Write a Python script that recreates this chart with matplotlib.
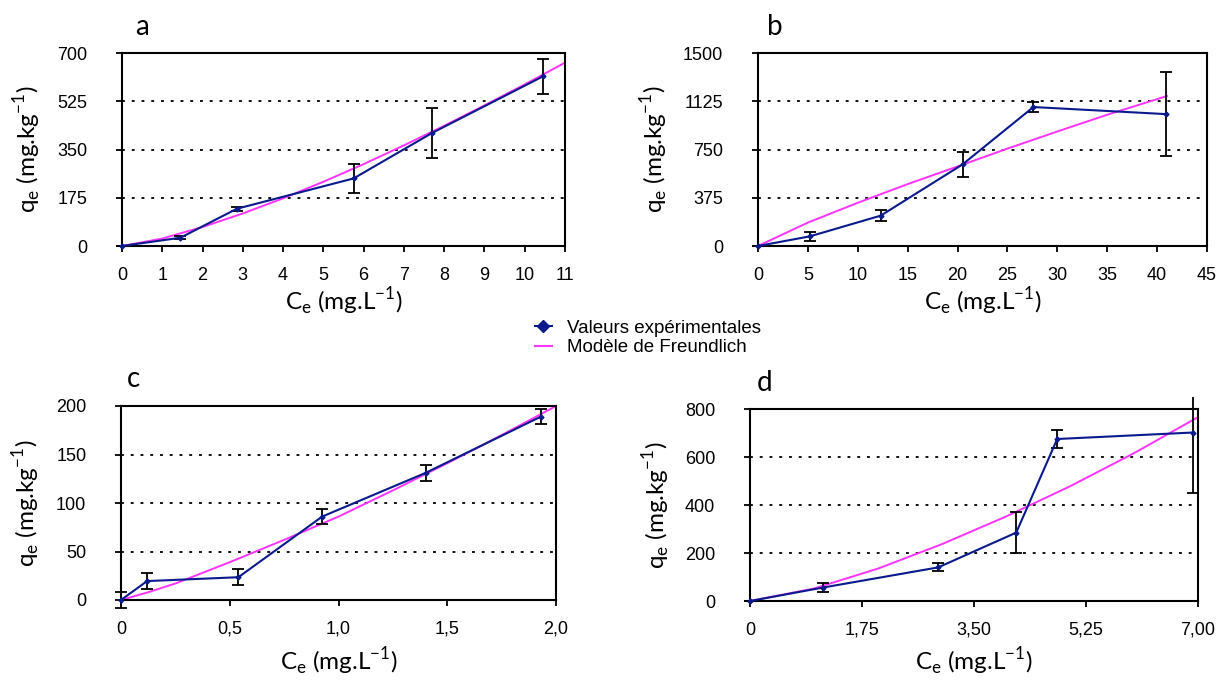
import matplotlib
matplotlib.use("Agg")
import matplotlib.pyplot as plt
from matplotlib.lines import Line2D
from matplotlib.transforms import Bbox, TransformedBbox

# --- data ---
# panel a
a_ce = [0, 1.45, 2.85, 5.75, 7.7, 10.45]
a_qe = [0, 30, 135, 245, 410, 615]
a_err = [0, 5, 8, 52, 92, 62]
a_fit_ce = [0, 1, 2, 3, 4, 5, 6, 7, 8, 9, 10, 11]
a_fit_qe = [0, 27, 69, 118, 173, 233, 297, 365, 436, 510, 586, 665]

# panel b
b_ce = [0, 5.2, 12.3, 20.5, 27.6, 40.9]
b_qe = [0, 75, 236, 634, 1080, 1025]
b_err = [0, 33, 43, 100, 39, 328]
b_fit_ce = [0, 5, 10, 15, 20, 25, 30, 35, 41]
b_fit_qe = [0, 182, 336, 481, 618, 757, 890, 1020, 1166]

# panel c
c_ce = [0, 0.12, 0.54, 0.925, 1.40, 1.93]
c_qe = [0, 19.5, 23.5, 86, 131, 189]
c_err = [8, 8, 8, 8, 8, 8]
c_fit_ce = [0, 0.125, 0.25, 0.5, 0.75, 1.0, 1.25, 1.5, 1.75, 2.0]
c_fit_qe = [0, 8, 17, 39, 62, 86, 113, 141, 170, 200]

# panel d
d_ce = [0, 1.14, 2.94, 4.16, 4.80, 6.92]
d_qe = [0, 56, 140, 285, 675, 702]
d_err = [0, 18, 17, 86, 37, 253]
d_fit_ce = [0, 1, 2, 3, 4, 5, 6, 7]
d_fit_qe = [0, 52, 135, 237, 352, 478, 616, 766]

a_xticks = [0, 1, 2, 3, 4, 5, 6, 7, 8, 9, 10, 11]
a_xlabels = [str(v) for v in a_xticks]
a_yticks = [0, 175, 350, 525, 700]
b_xticks = [0, 5, 10, 15, 20, 25, 30, 35, 40, 45]
b_xlabels = [str(v) for v in b_xticks]
b_yticks = [0, 375, 750, 1125, 1500]
c_xticks = [0, 0.5, 1.0, 1.5, 2.0]
c_xlabels = ["0", "0,5", "1,0", "1,5", "2,0"]
c_yticks = [0, 50, 100, 150, 200]
d_xticks = [0, 1.75, 3.5, 5.25, 7.0]
d_xlabels = ["0", "1,75", "3,50", "5,25", "7,00"]
d_yticks = [0, 200, 400, 600, 800]

NAVY = "#0a1a8c"
MAGENTA = "#ff33ff"
TICKFONT = "Liberation Sans"
LABELFONT = "Lato"
W, H = 1217, 680

fig = plt.figure(figsize=(W / 100, H / 100), dpi=100)


def panel(box, letter, letter_off, ce, qe, err, fit_ce, fit_qe,
          xticks, xlabels, yticks, xlab_y, ylab_x):
    # box = (left, top, right, bottom) in pixels from the top-left corner
    l, t, r, b = box
    ax = fig.add_axes([l / W, 1 - b / H, (r - l) / W, (b - t) / H])
    for yv in yticks[1:-1]:
        ax.axhline(yv, color="black", lw=1.3, linestyle=(0, (1.6, 3.8)), zorder=1)
    ax.plot(fit_ce, fit_qe, color=MAGENTA, lw=1.4, zorder=2)
    eb = ax.errorbar(ce, qe, yerr=err, fmt="none", ecolor="black", elinewidth=1.3,
                     capsize=4.5, capthick=1.3, zorder=3)
    # error bars may run a little past the frame (as in the original), then get cut
    clip = TransformedBbox(Bbox([[-0.2, -0.2], [1.2, 12 / (b - t) + 1]]), ax.transAxes)
    for art in list(eb.lines[1]) + list(eb.lines[2]):
        art.set_clip_box(clip)
    ax.plot(ce, qe, color=NAVY, lw=1.5, marker="D", ms=2.5, zorder=4, clip_on=False)
    ax.set_xlim(xticks[0], xticks[-1])
    ax.set_ylim(yticks[0], yticks[-1])
    ax.set_xticks(xticks)
    ax.set_xticklabels(xlabels, fontsize=13, family=TICKFONT)
    ax.set_yticks(yticks)
    ax.set_yticklabels([str(v) for v in yticks], fontsize=13, family=TICKFONT)
    ax.tick_params(direction="out", length=4, width=1.3)
    ax.tick_params(axis="x", pad=11)
    ax.tick_params(axis="y", pad=21)
    for s in ax.spines.values():
        s.set_linewidth(1.5)
    ax.set_xlabel(r"C$_\mathregular{e}$ (mg.L$^\mathregular{-1}$)", fontsize=17.5,
                  family=LABELFONT)
    ax.set_ylabel(r"q$_\mathregular{e}$ (mg.kg$^\mathregular{-1}$)", fontsize=17.5,
                  family=LABELFONT)
    ax.xaxis.set_label_coords(0.5, -(xlab_y - b) / (b - t))
    ax.xaxis.label.set_verticalalignment("center")
    ax.yaxis.set_label_coords((ylab_x - l) / (r - l), 0.5)
    ax.yaxis.label.set_verticalalignment("center")
    ax.annotate(letter, xy=(0, 1), xycoords="axes fraction",
                xytext=(letter_off[0] * 0.72, letter_off[1] * 0.72),
                textcoords="offset points", fontsize=20, family=LABELFONT,
                ha="center", va="center")
    return ax


panel((122, 53, 565, 246), "a", (20, 26), a_ce, a_qe, a_err, a_fit_ce, a_fit_qe,
      a_xticks, a_xlabels, a_yticks, 302, 28)
panel((758, 53, 1207, 246), "b", (17, 26), b_ce, b_qe, b_err, b_fit_ce, b_fit_qe,
      b_xticks, b_xlabels, b_yticks, 302, 655)
panel((121, 406, 556, 600), "c", (13, 27), c_ce, c_qe, c_err, c_fit_ce, c_fit_qe,
      c_xticks, c_xlabels, c_yticks, 662, 27)
panel((750, 409, 1198, 601), "d", (15, 26), d_ce, d_qe, d_err, d_fit_ce, d_fit_qe,
      d_xticks, d_xlabels, d_yticks, 662, 657)

handles = [
    Line2D([], [], color=NAVY, lw=1.5, marker="D", ms=6),
    Line2D([], [], color=MAGENTA, lw=1.5),
]
fig.legend(handles, ["Valeurs expérimentales", "Modèle de Freundlich"],
           loc="center left", bbox_to_anchor=(535 / W, 1 - 338 / H), frameon=False,
           prop={"family": TICKFONT, "size": 13.5}, handlelength=0.9,
           handletextpad=0.8, labelspacing=0.12, borderpad=0, borderaxespad=0)

fig.savefig("out.png", dpi=100)
